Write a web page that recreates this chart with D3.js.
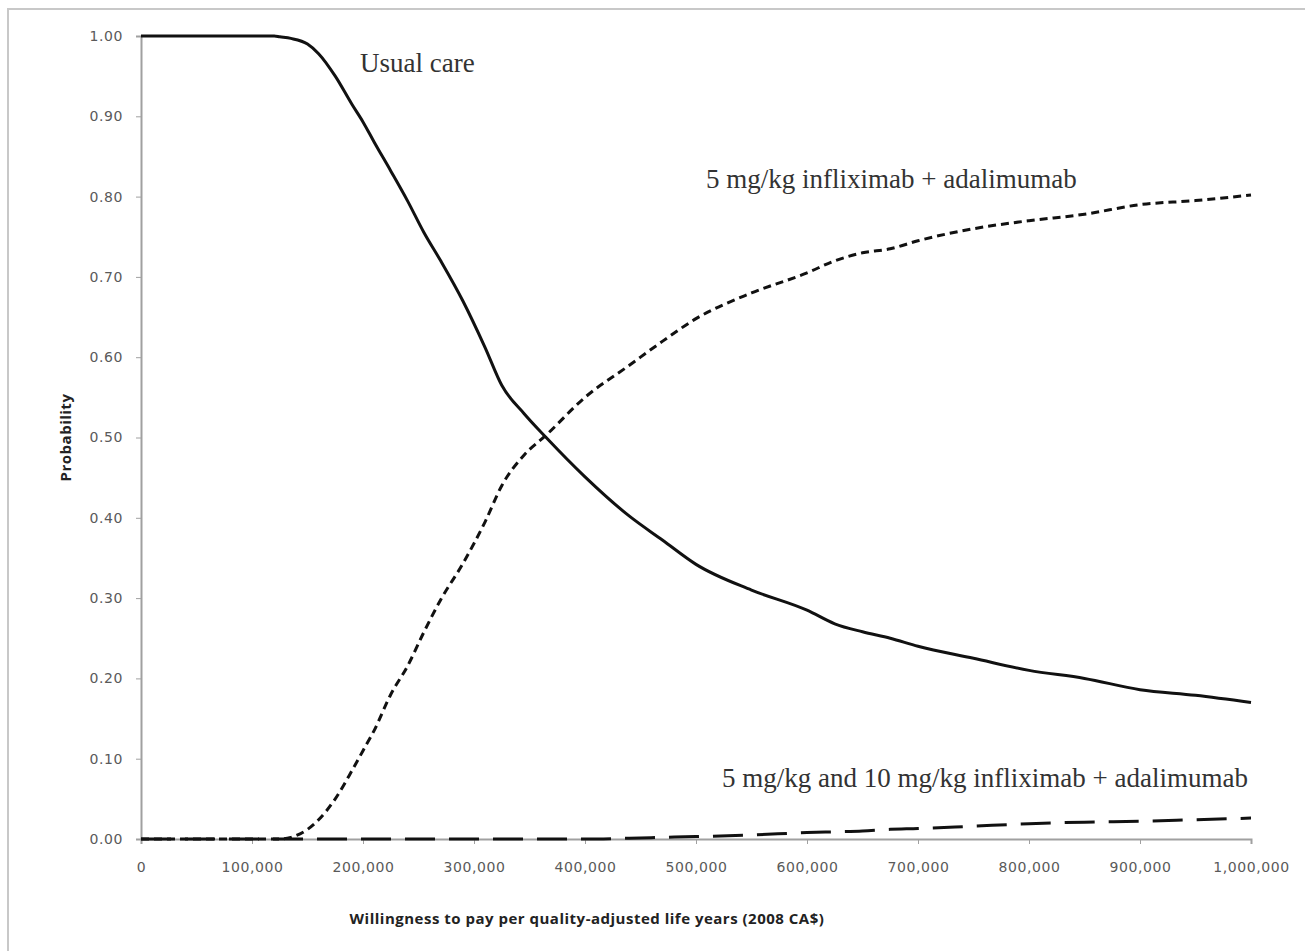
<!DOCTYPE html>
<html>
<head>
<meta charset="utf-8">
<script src="https://cdn.jsdelivr.net/npm/d3@7"></script>
<style>
  body { margin: 0; background: #fff; }
  .tick text { font-family: "DejaVu Sans", sans-serif; font-size: 14px; fill: #5a5a5a; letter-spacing: 0.6px; }
  .axis path, .axis line { stroke: #a0a0a0; }
  .lbl { font-family: "Liberation Serif", serif; font-size: 27px; fill: #333; }
  .ttl { font-family: "Open Sans", sans-serif; font-weight: bold; font-size: 15px; fill: #222; letter-spacing: 0.5px; }
</style>
</head>
<body>
<div id="chart"></div>
<script>
var margin = { left: 141, right: 54, top: 36, bottom: 112 };
var width = 1305 - margin.left - margin.right;
var height = 951 - margin.top - margin.bottom;

// willingness to pay (CA$)
var wtp = [0, 50000, 100000, 120000, 125000, 135000, 150000, 160000, 175000, 190000, 200000, 210000, 225000,
  240000, 255000, 270000, 290000, 310000, 325000, 345000, 365000, 400000, 440000, 470000, 500000, 550000,
  600000, 625000, 650000, 675000, 700000, 750000, 800000, 850000, 900000, 950000, 1000000];

var usualCare = [1.00, 1.00, 1.00, 1.00, 0.999, 0.997, 0.990, 0.978, 0.950, 0.915, 0.893, 0.868, 0.832,
  0.795, 0.755, 0.720, 0.670, 0.612, 0.565, 0.530, 0.500, 0.451, 0.402, 0.372, 0.342, 0.310,
  0.285, 0.268, 0.258, 0.250, 0.240, 0.225, 0.210, 0.200, 0.186, 0.179, 0.170];

var infliximab5 = [0, 0, 0, 0, 0, 0.002, 0.012, 0.024, 0.05, 0.085, 0.11, 0.135, 0.18,
  0.215, 0.258, 0.298, 0.343, 0.395, 0.440, 0.478, 0.503, 0.550, 0.590, 0.620, 0.648, 0.680,
  0.705, 0.720, 0.730, 0.735, 0.745, 0.760, 0.770, 0.778, 0.790, 0.795, 0.802];

var infliximab5and10 = [0, 0, 0, 0, 0, 0, 0, 0, 0, 0, 0, 0, 0,
  0, 0, 0, 0, 0, 0, 0, 0, 0, 0.001, 0.002, 0.003, 0.005,
  0.008, 0.009, 0.010, 0.012, 0.013, 0.016, 0.019, 0.021, 0.022, 0.024, 0.026];

var xTicks = [0, 100000, 200000, 300000, 400000, 500000, 600000, 700000, 800000, 900000, 1000000];
var yTicks = [0, 0.1, 0.2, 0.3, 0.4, 0.5, 0.6, 0.7, 0.8, 0.9, 1.0];

var series = [
  { name: "Usual care", values: usualCare, dash: null },
  { name: "5 mg/kg infliximab + adalimumab", values: infliximab5, dash: "8,5" },
  { name: "5 mg/kg and 10 mg/kg infliximab + adalimumab", values: infliximab5and10, dash: "30,14" }
];

var svg = d3.select('#chart')
  .append('svg')
    .attr('width', 1305)
    .attr('height', 951);

// outer frame
svg.append('rect')
  .attr('x', 8).attr('y', 9)
  .attr('width', 1310).attr('height', 960)
  .attr('fill', 'none')
  .attr('stroke', '#c8c8c8')
  .attr('stroke-width', 2);

var g = svg.append('g')
  .attr('transform', 'translate(' + margin.left + ',' + margin.top + ')');

var x = d3.scaleLinear().domain([0, 1000000]).range([0, width]);
var y = d3.scaleLinear().domain([0, 1]).range([height, 0]);

var xAxis = d3.axisBottom(x)
  .tickValues(xTicks)
  .tickSize(5)
  .tickFormat(d3.format(','));
var yAxis = d3.axisLeft(y)
  .tickValues(yTicks)
  .tickSize(5)
  .tickFormat(d3.format('.2f'));

var gx = g.append('g')
  .attr('class', 'axis')
  .attr('transform', 'translate(0,' + height + ')')
  .call(xAxis);
gx.selectAll('.tick text').attr('dy', '1.75em');

var gy = g.append('g')
  .attr('class', 'axis')
  .call(yAxis);
gy.selectAll('.tick text').attr('x', -18);

g.selectAll('.axis .domain').attr('stroke-width', 2);

var line = d3.line()
  .x(function(d, i) { return x(wtp[i]); })
  .y(function(d) { return y(d); })
  .curve(d3.curveMonotoneX);

g.selectAll('.series')
  .data(series)
  .enter()
  .append('path')
    .attr('class', 'series')
    .attr('d', function(d) { return line(d.values); })
    .attr('fill', 'none')
    .attr('stroke', '#111')
    .attr('stroke-width', 3)
    .attr('stroke-dasharray', function(d) { return d.dash; });

// series labels
var labels = [
  { text: series[0].name, x: 219, y: 36 },
  { text: series[1].name, x: 565, y: 152 },
  { text: series[2].name, x: 581, y: 751 }
];
g.selectAll('.lbl')
  .data(labels)
  .enter()
  .append('text')
    .attr('class', 'lbl')
    .attr('x', function(d) { return d.x; })
    .attr('y', function(d) { return d.y; })
    .text(function(d) { return d.text; });

// axis titles
g.append('text')
  .attr('class', 'ttl')
  .attr('x', 446)
  .attr('y', height + 85)
  .attr('text-anchor', 'middle')
  .text('Willingness to pay per quality-adjusted  life years (2008 CA$)');

g.append('text')
  .attr('class', 'ttl')
  .attr('transform', 'translate(-70,' + (height / 2) + ') rotate(-90)')
  .attr('text-anchor', 'middle')
  .text('Probability');
</script>
</body>
</html>
